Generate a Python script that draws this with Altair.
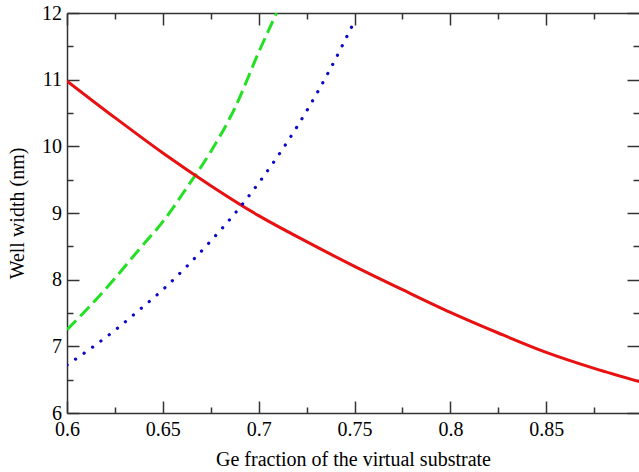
import altair as alt
import pandas as pd

# ---- data ----
x_red = [0.6, 0.625, 0.65, 0.675, 0.7, 0.725, 0.75, 0.775, 0.8, 0.825, 0.85, 0.875, 0.9]
y_red = [10.98, 10.43, 9.90, 9.41, 8.96, 8.57, 8.20, 7.85, 7.51, 7.20, 6.91, 6.67, 6.46]

x_green = [0.6, 0.6125, 0.625, 0.6375, 0.65, 0.6625, 0.675, 0.6875, 0.7, 0.7093]
y_green = [7.25, 7.62, 8.02, 8.45, 8.87, 9.38, 9.92, 10.57, 11.41, 12.0]

x_blue = [0.6, 0.6125, 0.625, 0.6375, 0.65, 0.6625, 0.675, 0.6875, 0.7, 0.7125, 0.725, 0.7375, 0.75]
y_blue = [6.72, 6.97, 7.24, 7.54, 7.85, 8.20, 8.58, 8.99, 9.45, 9.96, 10.53, 11.17, 11.88]

x_ticks = [0.6, 0.625, 0.65, 0.675, 0.7, 0.725, 0.75, 0.775, 0.8, 0.825, 0.85, 0.875]
y_ticks = [6, 6.5, 7, 7.5, 8, 8.5, 9, 9.5, 10, 10.5, 11, 11.5, 12]

x_title = "Ge fraction of the virtual substrate"
y_title = "Well width (nm)"

red_df = pd.DataFrame({"x": x_red, "y": y_red})
green_df = pd.DataFrame({"x": x_green, "y": y_green})
blue_df = pd.DataFrame({"x": x_blue, "y": y_blue})

FONT = "Liberation Serif"
AXC = "#333333"
x_major = "round(datum.value*40) % 2 == 0"
y_major = "round(datum.value*2) % 2 == 0"
x_size = alt.ExprRef(expr=f"{x_major} ? -12 : -6")
y_size = alt.ExprRef(expr=f"{y_major} ? -12 : -6")

common = dict(grid=False, tickColor=AXC, tickWidth=1.5, domainColor=AXC, domainWidth=1.5,
              labelFont=FONT, labelFontSize=20, labelColor="black", labelFlush=False,
              labelOverlap=False, titleFont=FONT, titleFontSize=20, titleColor="black",
              titleFontWeight="normal")

x_scale = alt.Scale(domain=[0.6, 0.8984], nice=False, zero=False)
y_scale = alt.Scale(domain=[6, 12], nice=False, zero=False)

ax_bottom = alt.Axis(orient="bottom", values=x_ticks, tickSize=x_size, labelPadding=18,
                     labelExpr=f"{x_major} ? format(datum.value, '~g') : ''",
                     title=x_title, titleY=52, titleBaseline="alphabetic", **common)
ax_left = alt.Axis(orient="left", values=y_ticks, tickSize=y_size, labelPadding=17.5,
                   labelExpr=f"{y_major} ? format(datum.value, '~g') : ''",
                   title=y_title, titleX=-43.5, titleAngle=270, titleBaseline="alphabetic",
                   **common)
ax_top = alt.Axis(orient="top", values=x_ticks, tickSize=x_size, labels=False, title=None,
                  **{k: v for k, v in common.items() if not k.startswith("label")})
ax_right = alt.Axis(orient="right", values=y_ticks, tickSize=y_size, labels=False, title=None,
                    domain=False,
                    **{k: v for k, v in common.items() if not k.startswith("label")})

green = alt.Chart(green_df).mark_line(
    color="#22e022", strokeWidth=3, strokeDash=[13, 6], clip=True, interpolate="monotone"
).encode(
    x=alt.X("x:Q", scale=x_scale, axis=ax_top),
    y=alt.Y("y:Q", scale=y_scale, axis=ax_right),
)

red = alt.Chart(red_df).mark_line(
    color="#e81010", strokeWidth=3, clip=True, interpolate="monotone"
).encode(
    x=alt.X("x:Q", scale=x_scale, axis=ax_bottom),
    y=alt.Y("y:Q", scale=y_scale, axis=ax_left),
)

blue = alt.Chart(blue_df).mark_line(
    color="#0a0ac8", strokeWidth=3.2, strokeDash=[0.1, 10.3], strokeCap="round",
    clip=True, interpolate="monotone"
).encode(
    x=alt.X("x:Q", scale=x_scale, axis=None),
    y=alt.Y("y:Q", scale=y_scale, axis=None),
)

chart = alt.layer(green, red, blue).resolve_axis(
    x="independent", y="independent"
).properties(
    width=572, height=400,
    padding={"left": 67, "top": 13, "right": 0, "bottom": 59},
    autosize=alt.AutoSizeParams(type="none"),
    background="white",
).configure_view(stroke="transparent")

chart.save("out.html", embed_options={"renderer": "svg", "actions": False})
